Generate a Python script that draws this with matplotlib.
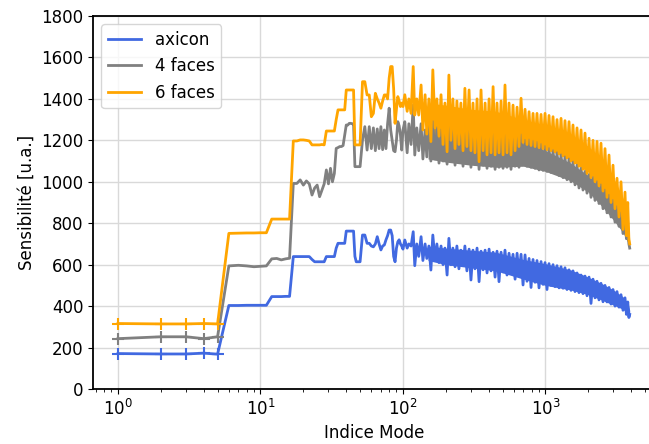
import matplotlib
matplotlib.use("Agg")
import matplotlib.pyplot as plt

# mode indices (dense at low order, sampled at high order)
modes = [1, 2, 3, 4, 5, 6, 7, 8, 9, 10, 11, 12, 13, 14, 15, 16,
         17, 18, 19, 20, 21, 22, 23, 24, 25, 26, 27, 28, 29, 30, 31, 32, 33, 34,
         35, 36, 37, 38, 39, 40, 41, 42, 43, 44, 45, 46, 47, 48, 49, 50,
         52, 54, 56, 58, 60, 62, 64, 66, 68, 70, 72, 74, 76, 78, 80, 82, 84, 86,
         88, 90, 92, 94, 96, 98, 100,
         103, 107, 110, 114, 118, 121, 125, 129, 134, 138, 143, 147, 152, 157,
         162, 168, 173, 179, 185, 191, 197, 204, 210, 217, 224, 232, 239, 247,
         255, 264, 272, 281, 291, 300, 310, 320, 331, 342, 353, 365, 377, 389,
         402, 415, 429, 443, 457, 472, 488, 504, 520, 537, 555, 573, 592, 612,
         632, 652, 674, 696, 719, 742, 767, 792, 818, 845, 872, 901, 931, 961,
         993, 1025, 1059, 1094, 1130, 1167, 1205, 1245, 1286, 1328, 1371, 1416,
         1463, 1511, 1560, 1612, 1665, 1719, 1776, 1834, 1894, 1957, 2021, 2087,
         2156, 2227, 2300, 2375, 2453, 2534, 2617, 2703, 2792, 2884, 2978, 3076,
         3177, 3281, 3389, 3500, 3615, 3700, 3780, 3850, 3900]

axicon = [171, 169, 169, 173, 168, 403, 403, 404, 404, 404, 404,
          446, 446, 446, 447, 447,
          639, 639, 639, 639, 639, 639, 625, 614, 614, 614, 614, 614,
          639, 639, 639, 639, 639, 680, 703, 703, 703, 703, 703,
          762, 762, 762, 762, 762, 762, 640, 614, 614, 614, 614,
          743, 743, 703, 703, 690, 686, 700, 735, 700, 671, 690, 695, 720,
          740, 767, 767, 740, 640, 614, 680, 710, 720, 700, 690, 675,
          719, 680, 700, 690, 759, 595, 700, 640, 735, 620, 700, 630, 690, 574,
          743, 620, 700, 610, 690, 600, 680, 550, 727, 600, 680, 590, 690, 580,
          670, 595, 690, 570, 675, 526, 670, 580, 680, 518, 665, 575, 670, 560,
          675, 570, 660, 540, 665, 518, 660, 565, 670, 550, 655, 560, 650, 530,
          655, 550, 650, 502, 647, 520, 630, 490, 625, 515, 620, 488, 615, 505,
          610, 480, 605, 500, 600, 494, 595, 488, 590, 486, 585, 480,
          575, 476, 570, 470, 560, 465, 550, 460, 545, 450, 540, 413,
          530, 440, 520, 430, 510, 421, 500, 420, 490, 410, 480, 400,
          470, 395, 455, 380, 440, 360, 420, 345, 360]

faces4 = [243, 252, 252, 243, 252, 594, 597, 594, 590, 592, 594,
          628, 630, 623, 628, 631,
          992, 992, 1009, 984, 1004, 990, 936, 970, 984, 928, 960, 990,
          1057, 990, 1065, 1000, 1040, 1161, 1165, 1170, 1170, 1175, 1226,
          1274, 1274, 1282, 1282, 1280, 1280, 1073, 1073, 1073, 1073, 1073,
          1202, 1266, 1153, 1266, 1160, 1260, 1150, 1255, 1160, 1266, 1155,
          1250, 1160, 1280, 1355, 1250, 1200, 1150, 1145, 1200, 1290, 1270,
          1226, 1153, 1250,
          1290, 1140, 1280, 1180, 1370, 1129, 1260, 1150, 1280, 1110, 1250, 1120,
          1270, 1100, 1290, 1110, 1260, 1090, 1250, 1100, 1230, 1085, 1290, 1100,
          1260, 1080, 1250, 1095, 1240, 1075, 1260, 1090, 1270, 1070, 1230, 1085,
          1250, 1060, 1260, 1080, 1230, 1065, 1240, 1075, 1260, 1060, 1220, 1070,
          1230, 1065, 1250, 1070, 1220, 1060, 1215, 1075, 1210, 1070, 1226, 1081,
          1200, 1075, 1202, 1070, 1195, 1065, 1190, 1057, 1180, 1055, 1170, 1050,
          1160, 1045, 1150, 1040, 1140, 1030, 1130, 1020, 1120, 1010, 1110, 1000,
          1095, 985, 1080, 970, 1065, 960, 1050, 945, 1035, 925, 1020, 910,
          1000, 895, 985, 870, 960, 850, 935, 830, 910, 805, 880, 785,
          850, 750, 810, 725, 770, 700, 680]

faces6 = [316, 314, 314, 316, 314, 751, 752, 753, 753, 754, 754,
          820, 820, 820, 820, 820,
          1197, 1197, 1202, 1202, 1200, 1197, 1178, 1178, 1178, 1178, 1180, 1178,
          1245, 1245, 1245, 1245, 1245, 1300, 1347, 1347, 1347, 1347, 1347,
          1443, 1443, 1443, 1443, 1443, 1443, 1178, 1178, 1178, 1178, 1178,
          1483, 1483, 1419, 1419, 1314, 1330, 1427, 1400, 1380, 1355, 1390,
          1419, 1419, 1400, 1500, 1556, 1556, 1450, 1282, 1350, 1411, 1390,
          1363, 1380, 1363,
          1420, 1340, 1400, 1330, 1556, 1322, 1400, 1322, 1467, 1250, 1420, 1230,
          1400, 1194, 1540, 1260, 1400, 1220, 1420, 1180, 1380, 1145, 1515, 1200,
          1400, 1160, 1390, 1180, 1380, 1150, 1451, 1170, 1443, 1150, 1380, 1140,
          1400, 1097, 1443, 1150, 1380, 1130, 1400, 1140, 1459, 1130, 1380, 1140,
          1390, 1130, 1467, 1140, 1380, 1130, 1370, 1150, 1360, 1170, 1403, 1190,
          1350, 1180, 1338, 1175, 1330, 1170, 1330, 1165, 1325, 1160, 1330, 1155,
          1320, 1150, 1314, 1145, 1300, 1135, 1306, 1125, 1295, 1115, 1290, 1100,
          1274, 1090, 1260, 1075, 1250, 1060, 1235, 1040, 1210, 1020, 1200, 1000,
          1195, 980, 1186, 955, 1160, 925, 1129, 900, 1080, 870, 1017, 830,
          1000, 770, 950, 740, 900, 720, 700]

# solid core of the fast oscillation at high mode index (lower / upper edge)
band_modes = [150, 200, 300, 450, 700, 1000, 1500, 2000, 2500, 3000, 3500, 3800, 3900]
axicon_lo = [620, 600, 585, 570, 530, 500, 478, 455, 428, 405, 385, 360, 350]
axicon_hi = [690, 680, 670, 660, 625, 605, 575, 540, 508, 478, 445, 410, 380]
faces4_lo = [1110, 1095, 1080, 1070, 1075, 1050, 1005, 950, 880, 815, 755, 705, 685]
faces4_hi = [1250, 1240, 1230, 1220, 1190, 1150, 1090, 1030, 960, 890, 800, 750, 690]
faces6_lo = [1220, 1190, 1160, 1140, 1180, 1160, 1105, 1045, 965, 870, 775, 725, 700]
faces6_hi = [1380, 1370, 1350, 1340, 1300, 1270, 1230, 1170, 1110, 1020, 920, 850, 720]

series = [("axicon", axicon, axicon_lo, axicon_hi, "royalblue"),
          ("4 faces", faces4, faces4_lo, faces4_hi, "gray"),
          ("6 faces", faces6, faces6_lo, faces6_hi, "orange")]

fig = plt.figure(figsize=(6.49, 4.44), dpi=100)
ax = fig.add_axes([93 / 649, 55 / 444, 562 / 649, 373 / 444])

for name, vals, lo, hi, col in series:
    ax.fill_between(band_modes, lo, hi, color=col, lw=0)
    ax.plot(modes, vals, color=col, lw=2.0, label=name)
    ax.plot(modes[:5], vals[:5], '+', color=col, ms=8, mew=1.5)

ax.set_xscale('log')
ax.set_xlim(0.668, 5870)
ax.set_ylim(0, 1800)
ax.set_yticks(range(0, 1801, 200))
ax.grid(True, color='#d9d9d9', lw=1.0)
ax.set_axisbelow(True)
for s in ax.spines.values():
    s.set_linewidth(1.3)
ax.tick_params(labelsize=12)
ax.set_xlabel('Indice Mode', fontsize=12)
ax.set_ylabel('Sensibilité [u.a.]', fontsize=12)
ax.legend(loc='upper left', fontsize=12)

fig.savefig('out.png', dpi=100)
